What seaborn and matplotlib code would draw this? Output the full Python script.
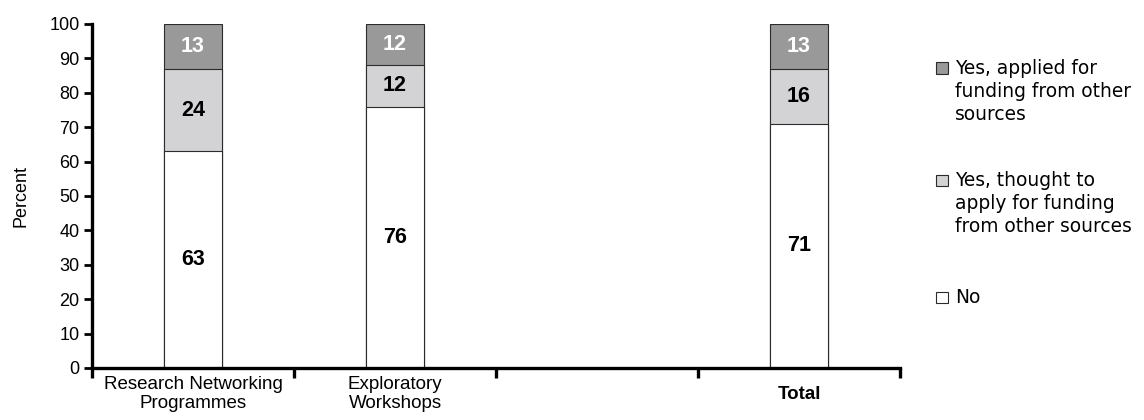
import numpy as np
import pandas as pd
import seaborn as sns
import matplotlib.pyplot as plt
from matplotlib.patches import Rectangle
from matplotlib.ticker import FixedLocator

# Survey answers (percent) per instrument
groups = ["Research Networking\nProgrammes", "Exploratory\nWorkshops", "Total"]
slot_order = ["Research Networking\nProgrammes", "Exploratory\nWorkshops", "", "Total"]
no_share = [63, 76, 71]
thought_share = [24, 12, 16]
applied_share = [13, 12, 13]

series_names = ["Yes, applied for\nfunding from other\nsources",
                "Yes, thought to\napply for funding\nfrom other sources",
                "No"]
yticks = list(range(0, 101, 10))

dark = "#999999"
light = "#d3d3d5"
white = "#ffffff"
edge = "#2b2b2b"

sns.set_style("white")
plt.rcParams["font.family"] = ["Liberation Sans", "DejaVu Sans"]
plt.rcParams.update({"text.color": "black", "axes.labelcolor": "black",
                     "xtick.color": "black", "ytick.color": "black"})

df = pd.DataFrame({
    "group": groups,
    "no": no_share,
    "thought": thought_share,
    "applied": applied_share,
})
df["lvl1"] = df["no"]
df["lvl2"] = df["no"] + df["thought"]
df["lvl3"] = df["no"] + df["thought"] + df["applied"]

fig = plt.figure(figsize=(11.44, 4.2), dpi=100)
ax = fig.add_axes([92 / 1144, 1 - 368 / 420, (900 - 92) / 1144, (368 - 24) / 420])

# stacked bars drawn as overlapping cumulative totals
for col, colr in [("lvl3", dark), ("lvl2", light), ("lvl1", white)]:
    sns.barplot(data=df, x="group", y=col, order=slot_order, color=colr,
                saturation=1, edgecolor=edge, linewidth=0.8, width=0.29,
                errorbar=None, ax=ax)

# value labels
for _, r in df.iterrows():
    xi = slot_order.index(r["group"])
    ax.text(xi, r["no"] / 2, f"{r['no']}", ha="center", va="center",
            fontsize=15.5, fontweight="bold", color="black")
    ax.text(xi, r["no"] + r["thought"] / 2, f"{r['thought']}", ha="center",
            va="center", fontsize=15.5, fontweight="bold", color="black")
    ax.text(xi, r["lvl2"] + r["applied"] / 2, f"{r['applied']}", ha="center",
            va="center", fontsize=15.5, fontweight="bold", color="white")

ax.set_xlim(-0.5, 3.5)
ax.set_ylim(0, 100)
ax.set_yticks(yticks)
ax.set_yticklabels([str(v) for v in yticks], fontsize=13)
ax.set_xlabel("")
ax.set_ylabel("Percent", fontsize=13, labelpad=14)

for s in ["top", "right"]:
    ax.spines[s].set_visible(False)
for s in ["left", "bottom"]:
    ax.spines[s].set_linewidth(2.4)
    ax.spines[s].set_color("black")

ax.tick_params(axis="y", left=True, direction="out", length=6, width=2, pad=3)
ax.set_xticks(range(len(slot_order)))
ax.xaxis.set_minor_locator(FixedLocator(np.arange(-0.5, 3.6, 1)))
ax.tick_params(axis="x", which="minor", bottom=True, direction="out",
               length=7, width=2.4)
ax.tick_params(axis="x", which="major", bottom=True, length=0, pad=19)
ax.set_xticklabels(slot_order, fontsize=13.5)
for lab in ax.get_xticklabels():
    lab.set_va("center")
    lab.set_linespacing(1.15)
    if lab.get_text() == "Total":
        lab.set_fontweight("bold")

# legend on the right
legend_rows = [(68, dark), (180, light), (297, white)]
for (yc, colr), name in zip(legend_rows, series_names):
    fig.add_artist(Rectangle((936 / 1144, 1 - (yc + 5.5) / 420), 12 / 1144, 11 / 420,
                             transform=fig.transFigure, facecolor=colr,
                             edgecolor=edge, linewidth=0.8))
    fig.text(955 / 1144, 1 - (yc - 9) / 420, name, ha="left", va="top",
             fontsize=13.4, linespacing=1.25, family=["DejaVu Sans"])

fig.savefig("out.png", dpi=100)
